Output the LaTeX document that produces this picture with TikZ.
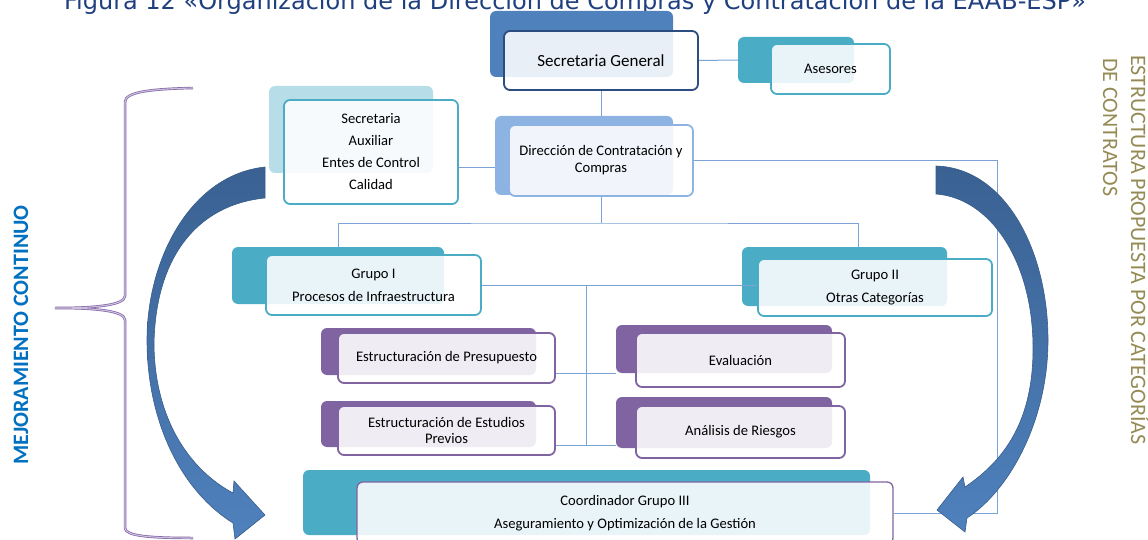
\documentclass[tikz,border=0pt]{standalone}
\usepackage{fontspec}
\setmainfont{Carlito}
\newfontfamily\titlefont{DejaVu Sans}

\definecolor{sgblue}{HTML}{4F81BD}
\definecolor{sgnavy}{HTML}{2C4D7F}
\definecolor{teal}{HTML}{4BACC6}
\definecolor{lightteal}{HTML}{B7DEE8}
\definecolor{dirblue}{HTML}{8DB3E2}
\definecolor{grape}{HTML}{8064A2}
\definecolor{grapelight}{HTML}{CDBFE0}
\definecolor{linkblue}{HTML}{7BA3D6}
\definecolor{arrowtop}{HTML}{3A6192}
\definecolor{arrowbot}{HTML}{4F81BD}
\definecolor{arrowline}{HTML}{385D8A}
\definecolor{olive}{HTML}{948A54}
\definecolor{mejblue}{HTML}{0070C0}
\definecolor{titleblue}{HTML}{1F3F7F}

\tikzset{
  backbox/.style={fill=#1, rounded corners=6pt, inner sep=0pt},
  frontbox/.style={draw=#1, line width=1.8pt, fill=white, fill opacity=.88,
    text opacity=1, rounded corners=6pt, align=center, inner sep=0pt,
    font=\fontsize{14.6}{17}\selectfont},
  sz/.style 2 args={minimum width=#1pt, minimum height=#2pt},
  link/.style={draw=linkblue, line width=1pt},
  bigarrow/.style={draw=arrowline, line width=.6pt, top color=arrowtop, bottom color=arrowbot},
  bracepen/.style={draw=grape, double=grapelight, double distance=1.1pt, line width=.7pt},
}

\begin{document}
\begin{tikzpicture}[x=1pt, y=-1pt]
\useasboundingbox (0,0) rectangle (1148,540);

% caption, top half falls off the page
\node[font=\titlefont\fontsize{24}{28}\selectfont, text=titleblue, anchor=base] (title) at (575,10)
  {Figura 12 «Organización de la Dirección de Compras y Contratación de la EAAB-ESP»};

% back plates
\node[backbox=sgblue, sz={183}{66}] (sgb) at (581.5,44) {};
\node[backbox=teal, sz={116}{46}] (aseb) at (796,60) {};
\node[backbox=lightteal, sz={164}{87}] (auxb) at (351,129.5) {};
\node[backbox=dirblue, sz={178}{79}] (dirb) at (584,155.5) {};
\node[backbox=teal, sz={212}{57}] (g1b) at (338,275.5) {};
\node[backbox=teal, sz={205}{59}] (g2b) at (844.5,276.5) {};
\node[backbox=grape, sz={215}{47}] (presb) at (428.5,351.5) {};
\node[backbox=grape, sz={215}{46}] (estb) at (428.5,424) {};
\node[backbox=grape, sz={216}{48}] (evalb) at (724,349) {};
\node[backbox=grape, sz={216}{51}] (anab) at (724,422.5) {};
\node[backbox=teal, sz={567}{65}] (coordb) at (586.5,502.5) {};

% front boxes
\node[frontbox=sgnavy, sz={194}{59}, font=\fontsize{17}{20}\selectfont] (sg) at (601,60.5) {Secretaria General};
\node[frontbox=teal, sz={119}{50}] (ase) at (830.5,69) {Asesores};
\node[frontbox=teal, sz={174}{104}, font=\fontsize{14.6}{22}\selectfont] (aux) at (371,152)
  {Secretaria\\Auxiliar\\Entes de Control\\Calidad};
\node[frontbox=dirblue, sz={184}{71}] (dir) at (601,160.5) {Dirección de Contratación y\\Compras};
\node[frontbox=teal, sz={215}{60}, font=\fontsize{14.6}{23}\selectfont] (g1) at (373.5,285)
  {Grupo I\\Procesos de Infraestructura};
\node[frontbox=teal, sz={234}{57}, font=\fontsize{14.6}{23}\selectfont] (g2) at (875,287.5)
  {Grupo II\\Otras Categorías};
\node[frontbox=grape, sz={217}{50}] (pres) at (446.5,358) {Estructuración de Presupuesto};
\node[frontbox=grape, sz={217}{49}, font=\fontsize{14.6}{16}\selectfont] (est) at (446.5,430.5)
  {Estructuración de Estudios\\Previos};
\node[frontbox=grape, sz={209}{54}] (eval) at (740.5,360) {Evaluación};
\node[frontbox=grape, sz={209}{52}] (ana) at (740.5,432) {Análisis de Riesgos};
\node[frontbox=grape, line width=1.3pt, sz={536}{62}, font=\fontsize{14.6}{23}\selectfont] (coord) at (625,513)
  {Coordinador Grupo III\\Aseguramiento y Optimización de la Gestión};

% connectors
\coordinate (split) at (601,223);
\coordinate (trunk) at (586,445);
\coordinate (rail) at (997,300);
\draw[link] (sg.east) -- (aseb.west);
\draw[link] (sg.south) -- (sg.south |- dirb.north);
\draw[link] ([yshift=-16pt]aux.east) -- ([yshift=-12.5pt]dirb.west);
\draw[link] (dir.south) -- (split);
\draw[link] (g1b.north) |- (split) -| ([xshift=14pt]g2b.north);
\draw[link] (dir.east) -| (rail) |- (coord.east);
\draw[link] (g1.east) -- (g1.east -| g2.west);
\draw[link] (g1.east -| trunk) -- (trunk);
\draw[link] ([yshift=-15pt]pres.east) -- ([yshift=-15pt]pres.east -| evalb.west);
\draw[link] ([yshift=-14.5pt]est.east) -- ([yshift=-14.5pt]est.east -| anab.west);

% curved arrows
\draw[bigarrow] (265,167) .. controls (190,175) and (147,260) .. (147,340)
  .. controls (147,420) and (180,490) .. (233,523) -- (235,539) -- (265,515) -- (234,481) -- (233,493)
  .. controls (190,470) and (155,420) .. (154,345) .. controls (155,260) and (195,205) .. (265,198) -- cycle;
\draw[bigarrow] (936,166) .. controls (1005,168) and (1048,250) .. (1048,340)
  .. controls (1048,420) and (1010,490) .. (967,518) -- (965,532) -- (937,510) -- (963,477) -- (965,487)
  .. controls (1005,460) and (1034,420) .. (1033,345) .. controls (1032,260) and (990,198) .. (936,194) -- cycle;

% brace
\draw[bracepen] (193,88) .. controls (150,89) and (125,92) .. (125,102) -- (125,296)
  .. controls (125,306) and (90,308) .. (55,308) .. controls (90,308) and (125,310) .. (125,320)
  -- (125,528) .. controls (125,536) and (150,538) .. (193,538);

% side labels
\node[rotate=90, text=mejblue, font=\bfseries\fontsize{22}{26}\selectfont] (mej) at (21,335) {MEJORAMIENTO CONTINUO};
\node[rotate=-90, anchor=base west, inner sep=0pt, text=olive, font=\fontsize{22}{26}\selectfont] (est1) at (1131,55)
  {ESTRUCTURA PROPUESTA POR CATEGORÍAS};
\node[rotate=-90, anchor=base west, inner sep=0pt, text=olive, font=\fontsize{22}{26}\selectfont] (est2) at (1103,58)
  {DE CONTRATOS};
\end{tikzpicture}
\end{document}
